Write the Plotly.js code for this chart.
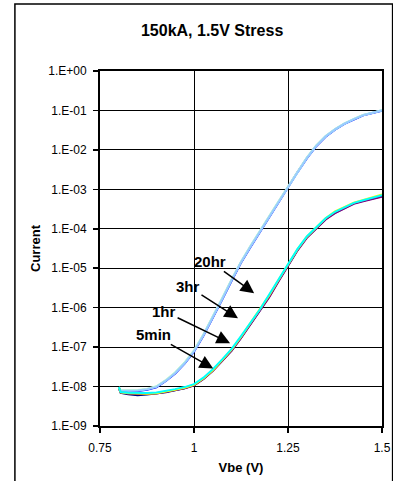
<!DOCTYPE html>
<html>
<head>
<meta charset="utf-8">
<script src="https://cdn.plot.ly/plotly-3.0.1.min.js"></script>
<style>
html,body{margin:0;padding:0;background:#fff;}
#chart{width:393px;height:481px;}
</style>
</head>
<body>
<div id="chart"></div>
<script>
// Vbe (V)
var vbe = [0.8, 0.805, 0.825, 0.85, 0.875, 0.9, 0.925, 0.95, 0.975, 1.0, 1.025, 1.05, 1.075, 1.1, 1.125, 1.15, 1.175, 1.2, 1.225, 1.25, 1.275, 1.3, 1.325, 1.35, 1.375, 1.4, 1.425, 1.45, 1.475, 1.5];

// upper bundle
var upperBlue  = [9.3e-9, 7.6e-9, 7.5e-9, 7.7e-9, 8.3e-9, 9.6e-9, 1.38e-8, 2.15e-8, 3.8e-8, 7.6e-8, 1.95e-7, 5.4e-7, 1.6e-6, 4.8e-6, 1.38e-5, 3.4e-5, 8.2e-5, 1.95e-4, 4.7e-4, 1.1e-3, 2.7e-3, 6.1e-3, 1.24e-2, 2.15e-2, 3.25e-2, 4.55e-2, 5.9e-2, 7.5e-2, 8.6e-2, 0.099];
var upperSky   = [9.6e-9, 8.0e-9, 7.9e-9, 8.0e-9, 8.6e-9, 1.0e-8, 1.43e-8, 2.25e-8, 4.0e-8, 8.1e-8, 2.05e-7, 5.7e-7, 1.7e-6, 5.1e-6, 1.44e-5, 3.6e-5, 8.9e-5, 2.05e-4, 4.9e-4, 1.14e-3, 2.8e-3, 6.3e-3, 1.28e-2, 2.22e-2, 3.32e-2, 4.65e-2, 6.05e-2, 7.65e-2, 8.75e-2, 0.101];
var upperGreen = [9.8e-9, 8.2e-9, 8.1e-9, 8.2e-9, 8.8e-9, 1.02e-8, 1.46e-8, 2.3e-8, 4.1e-8, 8.3e-8, 2.1e-7, 5.9e-7, 1.75e-6, 5.2e-6, 1.47e-5, 3.65e-5, 9.0e-5, 2.1e-4, 5.0e-4, 1.16e-3, 2.85e-3, 6.4e-3, 1.3e-2, 2.25e-2, 3.35e-2, 4.7e-2, 6.1e-2, 7.7e-2, 8.8e-2, 0.102];
var upperPale  = [9.5e-9, 7.9e-9, 7.8e-9, 7.9e-9, 8.5e-9, 9.8e-9, 1.41e-8, 2.2e-8, 3.9e-8, 7.9e-8, 2.0e-7, 5.6e-7, 1.66e-6, 5.0e-6, 1.41e-5, 3.5e-5, 8.7e-5, 2.0e-4, 4.8e-4, 1.12e-3, 2.75e-3, 6.2e-3, 1.26e-2, 2.2e-2, 3.3e-2, 4.6e-2, 6.0e-2, 7.6e-2, 8.7e-2, 0.1];

// lower bundle
var lowerNavy   = [9.3e-9, 6.9e-9, 6.4e-9, 6.0e-9, 6.3e-9, 6.6e-9, 7.2e-9, 8.1e-9, 9.1e-9, 1.07e-8, 1.55e-8, 2.5e-8, 4.5e-8, 8.2e-8, 1.72e-7, 3.8e-7, 8.1e-7, 1.9e-6, 4.8e-6, 1.15e-5, 2.85e-5, 6.0e-5, 1.03e-4, 1.75e-4, 2.55e-4, 3.4e-4, 4.4e-4, 5.1e-4, 5.9e-4, 6.7e-4];
var lowerPurple = [9.4e-9, 7.0e-9, 6.7e-9, 6.5e-9, 6.5e-9, 6.7e-9, 7.3e-9, 8.2e-9, 9.1e-9, 1.07e-8, 1.55e-8, 2.5e-8, 4.5e-8, 8.1e-8, 1.7e-7, 3.75e-7, 8.0e-7, 1.85e-6, 4.7e-6, 1.12e-5, 2.8e-5, 5.9e-5, 1.02e-4, 1.72e-4, 2.5e-4, 3.35e-4, 4.3e-4, 5.0e-4, 5.8e-4, 6.5e-4];
var lowerYellow = [9.5e-9, 7.1e-9, 6.8e-9, 6.6e-9, 6.6e-9, 6.8e-9, 7.4e-9, 8.3e-9, 9.3e-9, 1.1e-8, 1.6e-8, 2.6e-8, 4.7e-8, 8.6e-8, 1.82e-7, 4.05e-7, 8.6e-7, 2.05e-6, 5.1e-6, 1.22e-5, 3.0e-5, 6.3e-5, 1.09e-4, 1.85e-4, 2.75e-4, 3.6e-4, 4.6e-4, 5.4e-4, 6.3e-4, 7.4e-4];
var lowerCyan   = [9.7e-9, 7.3e-9, 7.0e-9, 6.9e-9, 6.9e-9, 7.1e-9, 7.7e-9, 8.6e-9, 9.7e-9, 1.15e-8, 1.68e-8, 2.75e-8, 4.9e-8, 9.0e-8, 1.9e-7, 4.2e-7, 9.0e-7, 2.15e-6, 5.3e-6, 1.26e-5, 3.05e-5, 6.4e-5, 1.1e-4, 1.85e-4, 2.7e-4, 3.55e-4, 4.55e-4, 5.3e-4, 6.1e-4, 7.1e-4];

// axis ticks
var xTickVals = [0.75, 1, 1.25, 1.5];
var xTickText = ['0.75', '1', '1.25', '1.5'];
var yTickVals = [1e-9, 1e-8, 1e-7, 1e-6, 1e-5, 1e-4, 1e-3, 1e-2, 1e-1, 1];
var yTickText = ['1.E-09', '1.E-08', '1.E-07', '1.E-06', '1.E-05', '1.E-04', '1.E-03', '1.E-02', '1.E-01', '1.E+00'];

// arrow labels: text, head x, head log10(y), offsets
var labelText = ['20hr', '3hr', '1hr', '5min'];
var labelHeadX = [1.160, 1.117, 1.096, 1.051];
var labelHeadLogY = [-5.635, -6.27, -6.90, -7.54];
var labelAx = [-44, -50, -66, -60];
var labelAy = [-32, -32, -32, -34];

var FONT = 'Liberation Sans, Arial, sans-serif';

function series(y, color) {
  return {x: vbe, y: y, type: 'scatter', mode: 'lines',
          line: {color: color, width: 2}, hoverinfo: 'skip', showlegend: false};
}

var data = [
  series(upperBlue, '#0000FF'),
  series(upperSky, '#66CCFF'),
  series(upperGreen, '#CCFFCC'),
  series(upperPale, '#99CCFF'),
  series(lowerNavy, '#000080'),
  series(lowerPurple, '#800080'),
  series(lowerYellow, '#FFFF00'),
  series(lowerCyan, '#00FFFF')
];

var annotations = labelText.map(function (t, i) {
  return {x: labelHeadX[i], y: labelHeadLogY[i], xref: 'x', yref: 'y',
          text: '<b>' + t + '</b>', showarrow: true,
          ax: labelAx[i], ay: labelAy[i],
          arrowhead: 2, arrowsize: 1.8, arrowwidth: 1.5, arrowcolor: '#000',
          font: {family: FONT, size: 15, color: '#000'}};
});

var axisCommon = {
  showgrid: true, gridcolor: '#000', gridwidth: 1,
  showline: true, linecolor: '#000', linewidth: 2, mirror: true,
  ticks: 'outside', ticklen: 5, tickwidth: 1.5, tickcolor: '#000',
  zeroline: false,
  tickfont: {family: FONT, size: 12, color: '#000'}
};

var layout = {
  width: 393, height: 481,
  margin: {l: 100, r: 11.3, t: 71, b: 55.3},
  paper_bgcolor: '#fff', plot_bgcolor: '#fff',
  title: {text: '<b>150kA, 1.5V Stress</b>', x: 0.3976, xref: 'paper', xanchor: 'center',
          y: 1 - 30 / 481, yref: 'container', yanchor: 'middle',
          font: {family: FONT, size: 16, color: '#000'}},
  xaxis: Object.assign({}, axisCommon, {
    range: [0.75, 1.5], tickmode: 'array', tickvals: xTickVals, ticktext: xTickText,
    ticklabelstandoff: 5,
    title: {text: '<b>Vbe (V)</b>', font: {family: FONT, size: 13, color: '#000'}, standoff: 8}
  }),
  yaxis: Object.assign({}, axisCommon, {
    type: 'log', range: [-9, 0], tickmode: 'array', tickvals: yTickVals, ticktext: yTickText,
    ticklabelstandoff: 4,
    title: {text: '<b>Current</b>', font: {family: FONT, size: 13, color: '#000'}, standoff: 5}
  }),
  annotations: annotations,
  shapes: [{type: 'rect', xref: 'paper', yref: 'paper',
            x0: (15 - 100) / 281.7, x1: (392.3 - 100) / 281.7,
            y0: -0.4, y1: (425.7 - 4) / 354.7,
            line: {color: '#000', width: 1.5}, fillcolor: 'rgba(0,0,0,0)', layer: 'below'}]
};

Plotly.newPlot('chart', data, layout, {staticPlot: true, displayModeBar: false});
</script>
</body>
</html>
